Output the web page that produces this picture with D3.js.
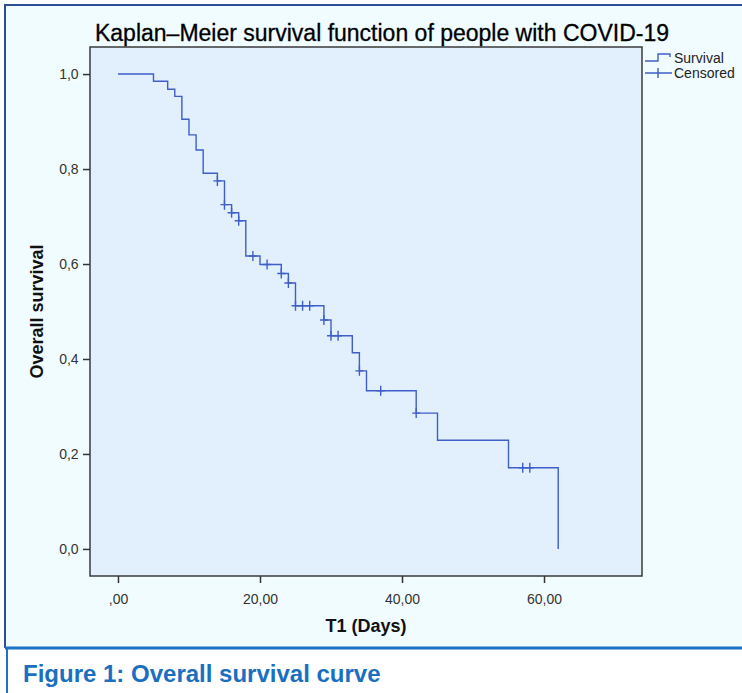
<!DOCTYPE html>
<html>
<head>
<meta charset="utf-8">
<script src="https://cdn.jsdelivr.net/npm/d3@7"></script>
<style>
  body { margin: 0; background: #ffffff; }
  text { font-family: "Liberation Sans", Arial, sans-serif; }
</style>
</head>
<body>
<svg id="chart" width="742" height="693"></svg>
<script>
// survival steps (time in days, survival after the step)
const stepTimes = [0, 5, 7, 8, 9, 10, 11, 12, 14, 15, 16, 17, 18, 20, 23, 24, 25, 29, 30, 33, 34, 35, 42, 45, 55, 62];
const survival  = [1.0, 0.985, 0.968, 0.953, 0.905, 0.872, 0.840, 0.791, 0.775, 0.725, 0.708, 0.691, 0.617, 0.599, 0.580, 0.560, 0.512, 0.482, 0.449, 0.413, 0.375, 0.333, 0.286, 0.229, 0.171, 0.0];

// censored observations
const censorTimes = [14, 15, 16, 17, 19, 21, 23, 24, 25, 26, 27, 29, 30, 31, 34, 37, 42, 57, 58];
const censorSurv  = [0.775, 0.725, 0.708, 0.691, 0.617, 0.599, 0.580, 0.560, 0.512, 0.512, 0.512, 0.482, 0.449, 0.449, 0.375, 0.333, 0.286, 0.171, 0.171];

// axis ticks
const xTicks = [0, 20, 40, 60];
const xTickLabels = [",00", "20,00", "40,00", "60,00"];
const yTicks = [0, 0.2, 0.4, 0.6, 0.8, 1.0];
const yTickLabels = ["0,0", "0,2", "0,4", "0,6", "0,8", "1,0"];

const legendItems = ["Survival", "Censored"];

const svg = d3.select("#chart");
const lineColor = "#3f5fc8";

// frame and backgrounds
svg.append("rect").attr("x", 5).attr("y", 5).attr("width", 737).attr("height", 643)
  .attr("fill", "#f0fcff");
svg.append("path").attr("d", "M5,648 V5 H742")
  .attr("fill", "none").attr("stroke", "#2d4e96").attr("stroke-width", 2);
svg.append("path").attr("d", "M7,648 V693")
  .attr("fill", "none").attr("stroke", "#1a73c4").attr("stroke-width", 2);
svg.append("line").attr("x1", 5).attr("x2", 742).attr("y1", 648).attr("y2", 648)
  .attr("stroke", "#1a73c4").attr("stroke-width", 3);

// plot area
const plot = {left: 90, right: 642, top: 47, bottom: 576};

const x = d3.scaleLinear()
  .domain([-3.94, 73.8])
  .range([plot.left, plot.right]);

const y = d3.scaleLinear()
  .domain([-0.057, 1.057])
  .range([plot.bottom, plot.top]);

svg.append("rect")
  .attr("x", plot.left).attr("y", plot.top)
  .attr("width", plot.right - plot.left).attr("height", plot.bottom - plot.top)
  .attr("fill", "#e2effd");

// axes
const xAxis = svg.append("g")
  .attr("transform", `translate(0,${plot.bottom})`)
  .call(d3.axisBottom(x).tickValues(xTicks).tickSize(7).tickSizeOuter(0)
    .tickFormat((d, i) => xTickLabels[i]));

const yAxis = svg.append("g")
  .attr("transform", `translate(${plot.left},0)`)
  .call(d3.axisLeft(y).tickValues(yTicks).tickSize(7).tickSizeOuter(0)
    .tickFormat((d, i) => yTickLabels[i]));

[xAxis, yAxis].forEach(g => {
  g.select(".domain").remove();
  g.selectAll(".tick line").attr("stroke", "#333").attr("stroke-width", 1.5);
  g.selectAll(".tick text").attr("font-size", 14).attr("fill", "#333")
    .style("font-family", "'Liberation Sans', Arial, sans-serif");
});
xAxis.selectAll(".tick text").attr("dy", "1.3em");
yAxis.selectAll(".tick text").attr("dx", "-0.1em");

// plot border
svg.append("rect")
  .attr("x", plot.left).attr("y", plot.top)
  .attr("width", plot.right - plot.left).attr("height", plot.bottom - plot.top)
  .attr("fill", "none").attr("stroke", "#3a3a3a").attr("stroke-width", 1.5);

// survival step line
const steps = stepTimes.map((t, i) => [t, survival[i]]);
svg.append("path")
  .datum(steps)
  .attr("fill", "none")
  .attr("stroke", lineColor)
  .attr("stroke-width", 1.4)
  .attr("d", d3.line().x(d => x(d[0])).y(d => y(d[1])).curve(d3.curveStepAfter));

// censor marks
const censored = censorTimes.map((t, i) => [t, censorSurv[i]]);
svg.append("g").selectAll("path")
  .data(censored)
  .join("path")
  .attr("fill", "none")
  .attr("stroke", lineColor)
  .attr("stroke-width", 1.4)
  .attr("d", d => {
    const cx = x(d[0]), cy = y(d[1]);
    return `M${cx - 4},${cy} H${cx + 4} M${cx},${cy - 5} V${cy + 5}`;
  });

// titles
svg.append("text")
  .attr("x", 382).attr("y", 41)
  .attr("text-anchor", "middle")
  .attr("font-size", 23)
  .attr("fill", "#000")
  .attr("stroke", "#000").attr("stroke-width", 0.3)
  .text("Kaplan\u2013Meier survival function of people with COVID-19");

svg.append("text")
  .attr("x", (plot.left + plot.right) / 2).attr("y", 632)
  .attr("text-anchor", "middle")
  .attr("font-size", 18)
  .attr("font-weight", "bold")
  .attr("fill", "#111")
  .text("T1 (Days)");

svg.append("text")
  .attr("transform", `translate(43,${y(0.5)}) rotate(-90)`)
  .attr("text-anchor", "middle")
  .attr("font-size", 18)
  .attr("font-weight", "bold")
  .attr("fill", "#111")
  .text("Overall survival");

// legend
const legend = svg.append("g").attr("transform", "translate(645,0)");
legend.append("path")
  .attr("d", "M0,61 H13 V54 H25 V57")
  .attr("fill", "none").attr("stroke", lineColor).attr("stroke-width", 1.4);
legend.append("path")
  .attr("d", "M0,73 H27 M13,68 V78")
  .attr("fill", "none").attr("stroke", lineColor).attr("stroke-width", 1.4);
legend.selectAll("text.leg")
  .data(legendItems)
  .join("text")
  .attr("class", "leg")
  .attr("x", 29)
  .attr("y", (d, i) => 63 + i * 15)
  .attr("font-size", 14)
  .attr("fill", "#222")
  .text(d => d);

// caption
svg.append("text")
  .attr("x", 23).attr("y", 682)
  .attr("font-size", 24)
  .attr("font-weight", "bold")
  .attr("fill", "#1a6fc0")
  .text("Figure 1: Overall survival curve");
</script>
</body>
</html>
